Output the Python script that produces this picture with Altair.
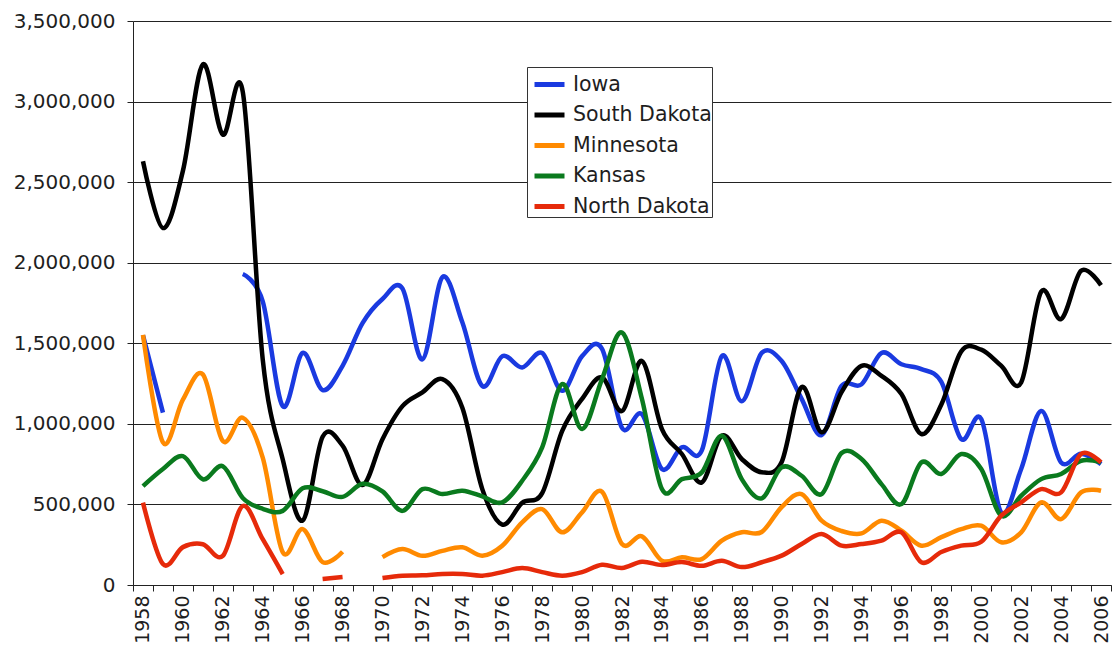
import altair as alt
import pandas as pd

years = list(range(1958, 2007))
states = ["Iowa", "South Dakota", "Minnesota", "Kansas", "North Dakota"]
colors = ["#1a3ae0", "#000000", "#ff8a00", "#0a7a1e", "#e62a0a"]

iowa = [1550000, 1070000, None, None, None, 1930000, 1760000, 1110000, 1440000, 1210000,
        1360000, 1625000, 1775000, 1840000, 1400000, 1910000, 1630000, 1235000, 1420000, 1350000,
        1440000, 1205000, 1420000, 1465000, 975000, 1060000, 720000, 855000, 835000, 1420000,
        1140000, 1440000, 1390000, 1155000, 930000, 1235000, 1245000, 1440000, 1370000, 1340000,
        1260000, 905000, 1030000, 450000, 720000, 1080000, 760000, 815000, 750000]
south_dakota = [2630000, 2215000, 2570000, 3230000, 2795000, 3060000, 1400000, 780000, 400000, 920000,
                865000, 620000, 905000, 1110000, 1195000, 1278000, 1100000, 595000, 375000, 510000,
                570000, 955000, 1155000, 1288000, 1080000, 1390000, 968000, 813000, 637000, 926000,
                782000, 700000, 763000, 1228000, 948000, 1197000, 1360000, 1298000, 1185000, 937000,
                1120000, 1450000, 1460000, 1360000, 1257000, 1820000, 1650000, 1950000, 1860000]
minnesota = [1552000, 885000, 1150000, 1307000, 893000, 1038000, 790000, 204000, 347000, 142000,
             206000, None, 173000, 223000, 181000, 212000, 234000, 182000, 244000, 389000,
             471000, 327000, 451000, 579000, 254000, 302000, 151000, 172000, 161000, 275000,
             327000, 329000, 484000, 564000, 399000, 335000, 320000, 399000, 337000, 244000,
             297000, 347000, 368000, 265000, 327000, 513000, 409000, 575000, 585000]
kansas = [614000, 720000, 800000, 656000, 737000, 540000, 473000, 460000, 600000, 582000,
          547000, 628000, 581000, 460000, 595000, 564000, 585000, 550000, 513000, 647000,
          854000, 1247000, 968000, 1278000, 1567000, 1154000, 595000, 657000, 699000, 926000,
          657000, 538000, 730000, 678000, 564000, 819000, 782000, 626000, 502000, 761000,
          689000, 813000, 720000, 430000, 554000, 657000, 689000, 771000, 761000]
north_dakota = [511000, 130000, 235000, 253000, 181000, 490000, 284000, 68000, None, 37000,
                49000, None, 43000, 58000, 60000, 68000, 68000, 58000, 80000, 105000,
                80000, 58000, 80000, 126000, 105000, 144000, 124000, 142000, 119000, 150000,
                111000, 141000, 182000, 254000, 316000, 244000, 254000, 275000, 327000, 141000,
                205000, 244000, 268000, 430000, 513000, 595000, 575000, 813000, 761000]

series = [iowa, south_dakota, minnesota, kansas, north_dakota]
rows = []
for s, vals in zip(states, series):
    for yr, v in zip(years, vals):
        rows.append({"year": yr, "state": s, "value": v})
df = pd.DataFrame(rows)

FONT = "DejaVu Sans"
TXT = "#1e1e1e"

chart = alt.Chart(df).mark_line(
    interpolate="cardinal",
    strokeWidth=4.5,
    strokeCap="butt",
    strokeJoin="round",
    invalid="break-paths-filter-domains",
).encode(
    x=alt.X(
        "year:O",
        bandPosition=0.5,
        scale=alt.Scale(type="band", paddingInner=0, paddingOuter=0),
        axis=alt.Axis(
            title=None,
            labelAngle=270,
            labelExpr="datum.value % 2 == 0 ? datum.label : ''",
            labelOverlap=False,
            tickBand="extent",
            grid=False,
            tickSize=6,
            labelPadding=4,
            domainColor="#222222",
            tickColor="#222222",
            labelFont=FONT,
            labelFontSize=19,
            labelColor=TXT,
        ),
    ),
    y=alt.Y(
        "value:Q",
        scale=alt.Scale(domain=[0, 3500000], nice=False),
        axis=alt.Axis(
            title=None,
            values=list(range(0, 3500001, 500000)),
            format=",.0f",
            grid=True,
            gridColor="#222222",
            gridWidth=1,
            domainColor="#222222",
            tickColor="#222222",
            tickSize=6,
            labelPadding=12,
            labelFont=FONT,
            labelFontSize=20,
            labelColor=TXT,
            minExtent=120,
            maxExtent=120,
        ),
    ),
    color=alt.Color(
        "state:N",
        scale=alt.Scale(domain=states, range=colors),
        legend=alt.Legend(
            title=None,
            orient="none",
            legendX=394,
            legendY=46,
            fillColor="white",
            strokeColor="#333333",
            padding=0,
            symbolType="stroke",
            symbolSize=900,
            symbolStrokeWidth=5,
            symbolOffset=5,
            labelFont=FONT,
            labelFontSize=20.5,
            labelColor=TXT,
            labelOffset=6,
            labelExpr="datum.label + ' '",
            rowPadding=2.5,
        ),
    ),
).properties(
    width=978,
    height=564,
    padding={"left": 5, "top": 3, "right": 0, "bottom": 0},
).configure_view(stroke=None)

chart.save("out.html", embed_options={"renderer": "svg", "actions": False})
